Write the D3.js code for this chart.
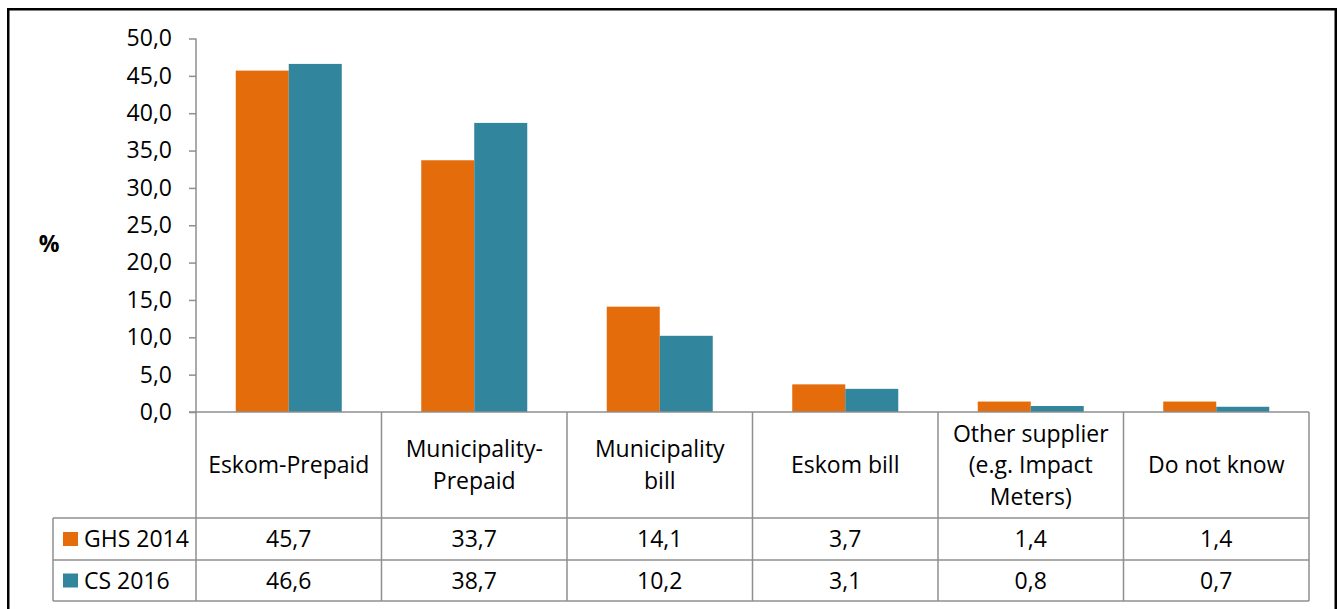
<!DOCTYPE html>
<html>
<head>
<meta charset="utf-8">
<script src="https://cdn.jsdelivr.net/npm/d3@7"></script>
<style>
  html, body { margin: 0; padding: 0; background: #fff; }
  svg { display: block; font-family: "Open Sans", "Noto Sans", sans-serif; }
</style>
</head>
<body>
<svg id="chart" width="1339" height="609"></svg>
<script>
// ---- data ----
const categories = [
  ["Eskom-Prepaid"],
  ["Municipality-", "Prepaid"],
  ["Municipality", "bill"],
  ["Eskom bill"],
  ["Other supplier", "(e.g. Impact", "Meters)"],
  ["Do not know"]
];
const seriesNames = ["GHS 2014", "CS 2016"];
const ghs2014 = [45.7, 33.7, 14.1, 3.7, 1.4, 1.4];
const cs2016  = [46.6, 38.7, 10.2, 3.1, 0.8, 0.7];
const seriesColors = ["#E46C0A", "#31859C"];
const yTicks = [0, 5, 10, 15, 20, 25, 30, 35, 40, 45, 50];
const yLabel = "%";

const seriesValues = [ghs2014, cs2016];
const catKeys = categories.map(c => c.join(" "));

// ---- layout ----
const svg = d3.select("#chart");
const plotLeft = 196, plotRight = 1309, plotTop = 38.5, plotBase = 412;
const headerBottom = 518, row1Bottom = 560, row2Bottom = 601;
const legendLeft = 53;
const gridColor = "#8f8f8f";
const fontSize = 23;

const locale = d3.formatLocale({decimal: ",", thousands: " ", grouping: [3], currency: ["", ""]});
const fmt = locale.format(".1f");

const x0 = d3.scaleBand().domain(catKeys).range([plotLeft, plotRight]).padding(0);
const step = x0.bandwidth();
const groupW = 106;
const x1 = d3.scaleBand().domain(seriesNames)
  .range([(step - groupW) / 2, (step + groupW) / 2]).padding(0);
const y = d3.scaleLinear().domain([0, 50]).range([plotBase, plotTop]);

// outer border
svg.append("rect")
  .attr("x", 8.25).attr("y", 9.25)
  .attr("width", 1327.5).attr("height", 640)
  .attr("fill", "none").attr("stroke", "#000").attr("stroke-width", 2.5);

// bars
const groups = svg.append("g").selectAll("g")
  .data(catKeys)
  .join("g")
  .attr("transform", d => `translate(${x0(d)},0)`);

groups.selectAll("rect")
  .data((d, i) => seriesNames.map((s, j) => ({s, v: seriesValues[j][i], j})))
  .join("rect")
  .attr("x", d => x1(d.s))
  .attr("width", x1.bandwidth())
  .attr("y", d => y(d.v))
  .attr("height", d => plotBase - y(d.v))
  .attr("fill", d => seriesColors[d.j]);

// y axis
const yAxis = d3.axisLeft(y)
  .tickValues(yTicks)
  .tickFormat(d => fmt(d))
  .tickSize(7)
  .tickPadding(17);
const ga = svg.append("g")
  .attr("transform", `translate(${plotLeft},0)`)
  .call(yAxis);
ga.select(".domain").attr("stroke", gridColor).attr("stroke-width", 1.5)
  .attr("d", `M0,${plotTop}V${plotBase}`);
ga.selectAll(".tick line").attr("stroke", gridColor).attr("stroke-width", 1.5);
ga.selectAll(".tick text")
  .attr("fill", "#000")
  .style("font-family", "'Open Sans', sans-serif")
  .style("font-size", fontSize + "px");

// y label
svg.append("text")
  .attr("x", 49).attr("y", 252)
  .attr("text-anchor", "middle")
  .style("font-weight", "bold")
  .style("font-size", "23px")
  .text(yLabel);

// data table
const tg = svg.append("g").attr("stroke", gridColor).attr("stroke-width", 1.5).attr("fill", "none");
tg.append("line").attr("x1", plotLeft - 7).attr("x2", plotRight).attr("y1", plotBase).attr("y2", plotBase);
tg.append("line").attr("x1", legendLeft).attr("x2", plotRight).attr("y1", headerBottom).attr("y2", headerBottom);
tg.append("line").attr("x1", legendLeft).attr("x2", plotRight).attr("y1", row1Bottom).attr("y2", row1Bottom);
tg.append("line").attr("x1", legendLeft).attr("x2", plotRight).attr("y1", row2Bottom).attr("y2", row2Bottom);
const vx = catKeys.map(k => x0(k)).concat([plotRight]);
vx.forEach(v => {
  tg.append("line").attr("x1", v).attr("x2", v).attr("y1", plotBase).attr("y2", row2Bottom);
});
tg.append("line").attr("x1", legendLeft).attr("x2", legendLeft).attr("y1", headerBottom).attr("y2", row2Bottom);

// category header text
const lineH = 31.5;
const headerMid = (plotBase + headerBottom) / 2;
categories.forEach((lines, i) => {
  const cx = x0(catKeys[i]) + step / 2;
  const t = svg.append("text")
    .attr("text-anchor", "middle")
    .style("font-size", fontSize + "px")
    .attr("fill", "#000");
  const n = lines.length;
  lines.forEach((ln, k) => {
    t.append("tspan")
      .attr("x", cx)
      .attr("y", headerMid + (k - (n - 1) / 2) * lineH)
      .attr("dy", "0.35em")
      .text(ln);
  });
});

// rows (legend + values)
const rowMids = [(headerBottom + row1Bottom) / 2, (row1Bottom + row2Bottom) / 2];
seriesNames.forEach((s, j) => {
  const ym = rowMids[j];
  svg.append("rect")
    .attr("x", 63).attr("y", ym - 7)
    .attr("width", 15).attr("height", 14)
    .attr("fill", seriesColors[j]);
  svg.append("text")
    .attr("x", 84).attr("y", ym).attr("dy", "0.35em")
    .style("font-size", fontSize + "px")
    .text(s);
  seriesValues[j].forEach((v, i) => {
    svg.append("text")
      .attr("x", x0(catKeys[i]) + step / 2)
      .attr("y", ym).attr("dy", "0.35em")
      .attr("text-anchor", "middle")
      .style("font-size", fontSize + "px")
      .text(fmt(v));
  });
});
</script>
</body>
</html>
